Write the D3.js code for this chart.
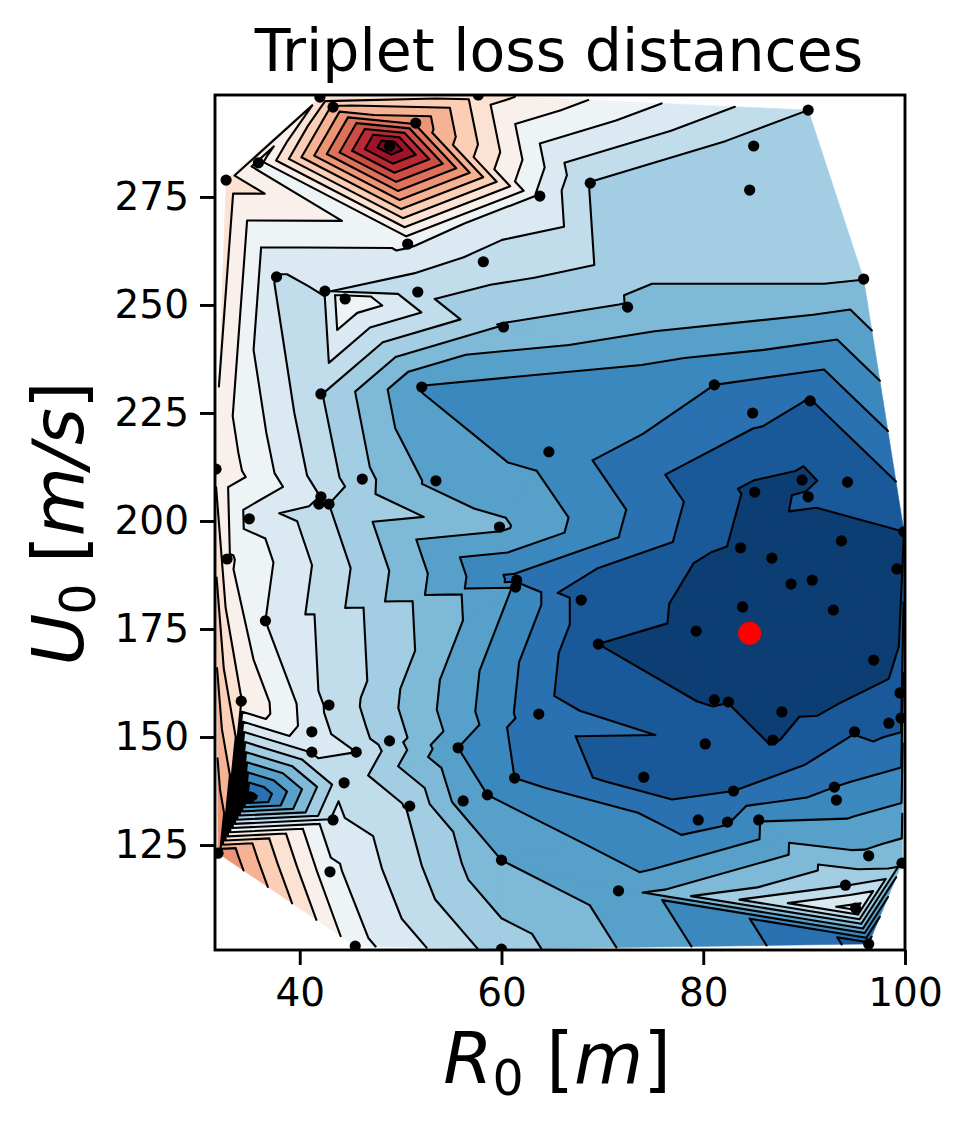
<!DOCTYPE html>
<html>
<head>
<meta charset="utf-8">
<script src="https://d3js.org/d3.v7.min.js"></script>
<style>
  html, body { margin: 0; padding: 0; background: #fff; }
  text { font-family: "DejaVu Sans", sans-serif; fill: #000; }
  .axis path, .axis line { stroke: #000; stroke-width: 2.9; }
  .axis text { font-size: 39px; }
</style>
</head>
<body>
<script>
// sampled points: radius, speed and loss (loss is given in contour level units)
var R0 = [42.0,43.3,57.7,51.5,48.9,35.9,32.7,63.8,50.7,58.2,37.7,42.5,44.5,51.7,60.2,90.4,85.0,84.6,68.8,95.9,
  72.5,42.1,52.1,31.7,46.2,53.5,64.7,35.0,42.1,41.9,42.9,59.8,32.8,61.5,61.4,36.6,81.1,84.9,90.6,89.8,
  90.4,94.3,85.1,93.7,99.9,83.7,86.8,99.2,88.7,90.8,92.9,83.9,79.3,69.6,67.9,96.9,34.2,42.9,41.2,41.2,
  45.6,48.9,55.7,63.7,61.3,44.4,58.6,56.2,50.9,43.3,35.1,60.0,43.0,31.9,45.5,60.0,99.5,99.6,98.4,95.0,
  81.1,82.5,87.8,86.9,80.2,74.1,83.0,93.0,93.2,79.5,82.4,85.5,71.6,96.4,99.7,94.1,95.1,96.4];
var U0 = [298.1,295.8,298.6,292.1,286.8,282.9,278.9,275.2,264.1,260.0,256.5,253.2,251.4,253.0,244.9,295.1,286.8,276.6,278.2,256.0,
  249.5,229.4,231.0,212.0,209.7,209.3,216.0,200.5,205.6,203.9,203.9,198.6,191.2,186.3,184.7,176.9,231.5,225.0,227.8,209.5,
  205.6,209.0,206.7,195.4,197.5,193.8,191.4,188.9,185.4,186.3,179.4,180.1,174.5,171.5,181.7,167.8,158.3,157.4,151.2,146.5,
  146.5,149.1,147.5,155.3,140.5,139.4,136.6,135.2,134.0,130.8,136.1,121.5,118.8,123.1,101.6,100.9,160.2,154.4,153.2,151.2,
  158.6,158.1,155.8,149.3,148.4,140.7,137.5,138.4,135.4,130.8,130.3,130.8,114.4,122.5,120.8,115.7,110.4,102.1];
var loss = [11.2,13.22,11.5,14.8,19.95,9.6,11.5,8.8,9.15,7.6,7.9,8.05,9.95,7.27,5.9,7.0,6.5,6.4,6.95,6.02,
  5.9,7.05,3.95,10.8,6.3,4.7,3.6,8.6,7.98,7.9,7.0,5.2,10.2,2.7,3.9,9.0,3.0,2.3,1.95,0.8,
  1.1,1.4,0.77,0.7,1.0,0.75,0.6,0.5,0.5,0.5,0.4,0.5,0.8,1.0,1.6,0.6,11.05,7.8,8.5,8.05,
  8.0,6.5,4.0,2.35,3.0,7.8,4.0,4.5,6.9,8.2,1.56,5.0,9.3,15.05,9.4,6.53,1.3,1.6,1.6,1.95,
  0.85,0.98,0.7,0.9,1.85,1.35,2.0,3.0,3.4,2.6,2.9,3.95,4.5,5.2,5.7,6.95,9.4,1.64];

var target = [84.6, 174.0];

var xTicks = [40, 60, 80, 100];
var yTicks = [125, 150, 175, 200, 225, 250, 275];
var levels = d3.range(0, 21);

// RdBu_r
var cmapColors = ["#053061","#2166ac","#4393c3","#92c5de","#d1e5f0","#f7f7f7","#fddbc7","#f4a582","#d6604d","#b2182b","#67001f"];

var margin = {top: 95, right: 64, bottom: 181, left: 215},
    width = 969 - margin.left - margin.right,
    height = 1131 - margin.top - margin.bottom;

var x = d3.scaleLinear().domain([31.6, 100]).range([0, width]);
var y = d3.scaleLinear().domain([100.7, 298.6]).range([height, 0]);
var cmap = d3.scaleLinear().domain(d3.range(0, 1.01, 0.1)).range(cmapColors);

var svg = d3.select("body").append("svg")
    .attr("width", 969)
    .attr("height", 1131)
    .style("display", "block");

var g = svg.append("g")
    .attr("transform", `translate(${margin.left},${margin.top})`);

g.append("clipPath").attr("id", "plot")
  .append("rect").attr("width", width).attr("height", height);

var plot = g.append("g").attr("clip-path", "url(#plot)");

// triangulate in data space, like tricontourf does
var pts = R0.map(function(r, i) { return [r, U0[i], loss[i]]; });
var tri = d3.Delaunay.from(pts, function(d) { return d[0]; }, function(d) { return d[1]; }).triangles;

var triangles = [];
for (var i = 0; i < tri.length; i += 3) {
  triangles.push([pts[tri[i]], pts[tri[i + 1]], pts[tri[i + 2]]]);
}

function cross(a, b, level) {
  var t = (level - a[2]) / (b[2] - a[2]);
  return [a[0] + t * (b[0] - a[0]), a[1] + t * (b[1] - a[1]), level];
}

// keep the part of a polygon on one side of a level
function clip(poly, level, keepAbove) {
  var out = [];
  poly.forEach(function(a, i) {
    var b = poly[(i + 1) % poly.length];
    var aIn = keepAbove ? a[2] >= level : a[2] <= level;
    var bIn = keepAbove ? b[2] >= level : b[2] <= level;
    if (aIn) out.push(a);
    if (aIn !== bIn) out.push(cross(a, b, level));
  });
  return out;
}

// filled bands
levels.slice(0, -1).forEach(function(lo, k) {
  var hi = levels[k + 1];
  var path = d3.path();
  triangles.forEach(function(t) {
    var poly = clip(clip(t, lo, true), hi, false);
    if (poly.length < 3) return;
    poly.forEach(function(p, j) {
      if (j === 0) path.moveTo(x(p[0]), y(p[1]));
      else path.lineTo(x(p[0]), y(p[1]));
    });
    path.closePath();
  });
  var color = cmap((k + 0.5) / (levels.length - 1));
  plot.append("path")
    .attr("d", path.toString())
    .attr("fill", color)
    .attr("stroke", color)
    .attr("stroke-width", 0.6);
});

// contour lines
var linePath = d3.path();
levels.forEach(function(level) {
  triangles.forEach(function(t) {
    var seg = [];
    t.forEach(function(a, i) {
      var b = t[(i + 1) % 3];
      if ((a[2] < level) !== (b[2] < level)) seg.push(cross(a, b, level));
    });
    if (seg.length === 2) {
      linePath.moveTo(x(seg[0][0]), y(seg[0][1]));
      linePath.lineTo(x(seg[1][0]), y(seg[1][1]));
    }
  });
});
plot.append("path")
  .attr("d", linePath.toString())
  .attr("fill", "none")
  .attr("stroke", "#000")
  .attr("stroke-width", 2.1)
  .attr("stroke-linecap", "round");

// scatter
plot.selectAll(".dot")
    .data(pts)
  .enter().append("circle")
    .attr("class", "dot")
    .attr("cx", function(d) { return x(d[0]); })
    .attr("cy", function(d) { return y(d[1]); })
    .attr("r", 5.6)
    .attr("fill", "#000");

plot.append("circle")
    .attr("cx", x(target[0]))
    .attr("cy", y(target[1]))
    .attr("r", 11.5)
    .attr("fill", "#ff0000");

// axes
g.append("g")
    .attr("class", "axis")
    .attr("transform", "translate(0," + height + ")")
    .call(d3.axisBottom(x).tickValues(xTicks).tickSize(15).tickPadding(13).tickSizeOuter(0));

g.append("g")
    .attr("class", "axis")
    .call(d3.axisLeft(y).tickValues(yTicks).tickSize(15).tickPadding(11).tickSizeOuter(0));

g.selectAll(".axis .domain").remove();

g.append("rect")
    .attr("width", width)
    .attr("height", height)
    .attr("fill", "none")
    .attr("stroke", "#000")
    .attr("stroke-width", 2.9);

// title and labels
svg.append("text")
    .attr("x", 559)
    .attr("y", 71)
    .attr("text-anchor", "middle")
    .attr("font-size", 58.5)
    .text("Triplet loss distances");

function mathLabel(sel, sym, unit) {
  sel.append("tspan").attr("font-style", "italic").text(sym);
  sel.append("tspan").attr("font-size", 49).attr("dy", 12).text("0");
  sel.append("tspan").attr("dy", -12).text(" [");
  sel.append("tspan").attr("font-style", "italic").text(unit);
  sel.append("tspan").text("]");
}

svg.append("text")
    .attr("x", 557)
    .attr("y", 1083)
    .attr("text-anchor", "middle")
    .attr("font-size", 71)
    .call(mathLabel, "R", "m");

svg.append("text")
    .attr("transform", "translate(83,524) rotate(-90)")
    .attr("text-anchor", "middle")
    .attr("font-size", 71)
    .attr("letter-spacing", -1)
    .call(mathLabel, "U", "m/s");
</script>
</body>
</html>
